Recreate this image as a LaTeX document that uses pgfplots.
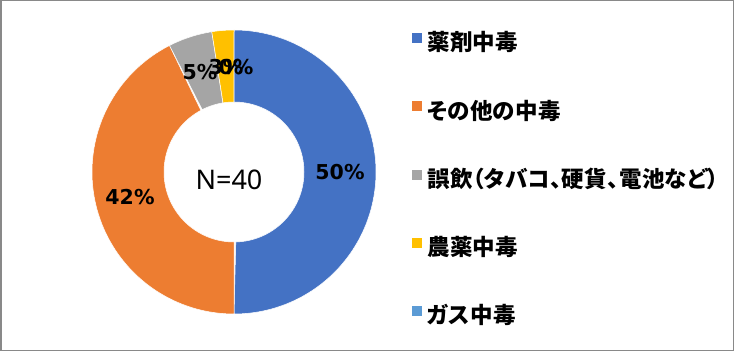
\documentclass[border=0pt]{standalone}
\usepackage{pgfplots}
\pgfplotsset{compat=1.18}
\usepackage{fontspec}
\setmainfont{Liberation Sans}
\newfontfamily\cjk[RawFeature=+palt, LetterSpace=1.5]{Noto Sans CJK JP}
\newfontfamily\labfont{DejaVu Sans}
\newfontfamily\nfont{Noto Sans}
\definecolor{cA}{HTML}{4472C4}
\definecolor{cB}{HTML}{ED7D31}
\definecolor{cC}{HTML}{A5A5A5}
\definecolor{cD}{HTML}{FFC000}
\definecolor{cE}{HTML}{5B9BD5}
\definecolor{frame}{HTML}{898989}
% counts (N=40)
\def\nA{20}\def\nB{17}\def\nC{2}\def\nD{1}\def\nE{0}\def\nTot{40}
\pgfmathsetmacro\aA{90}
\pgfmathsetmacro\aB{\aA-360*\nA/\nTot}
\pgfmathsetmacro\aC{\aB-360*\nB/\nTot}
\pgfmathsetmacro\aD{\aC-360*\nC/\nTot}
\pgfmathsetmacro\aE{\aD-360*\nD/\nTot}
\pgfmathsetmacro\aF{\aE-360*\nE/\nTot}
\newcommand\slice[3]{%
\addplot[fill=#1, draw=white, line width=0.5pt, domain=0:2, samples=241, variable=\t]
 ({234 + (\t<=1 ? 142 : 70)*cos(#2 + (\t<=1 ? \t : 2-\t)*(#3-#2))},
  {179 + (\t<=1 ? 142 : 70)*sin(#2 + (\t<=1 ? \t : 2-\t)*(#3-#2))}) -- cycle;
}
\pgfplotsset{legend image code/.code={\fill[#1,draw=none] (0pt,2pt) rectangle (10pt,12pt);}}
\begin{document}
\begin{tikzpicture}
\begin{axis}[
  width=734pt, height=351pt, scale only axis,
  xmin=0, xmax=734, ymin=0, ymax=351,
  hide axis, clip=false,
  legend style={at={(axis cs:412,318)}, anchor=north west, draw=none, fill=none,
    inner sep=0pt, row sep=45.8pt,
    nodes={inner sep=0pt, text height=16pt, text depth=5pt},
    font=\cjk\bfseries\fontsize{22.5}{26}\selectfont,
    /tikz/every odd column/.append style={column sep=5pt}},
  legend cell align=left,
]
\draw[frame, line width=1.5pt] (axis cs:0.75,0.75) rectangle (axis cs:733.25,350.25);
\slice{cA}{\aA}{\aB}
\addlegendentry{薬剤中毒}
\slice{cB}{\aB}{\aC}
\addlegendentry{その他の中毒}
\slice{cC}{\aC}{\aD}
\addlegendentry{誤飲（タバコ、硬貨、電池など）}
\slice{cD}{\aD}{\aE}
\addlegendentry{農薬中毒}
\addlegendimage{fill=cE}
\addlegendentry{ガス中毒}
\begin{scope}[every node/.style={font=\labfont\bfseries\fontsize{20.5}{23}\selectfont, inner sep=0pt}]
\node at (axis cs:340,179) {50\%};
\node at (axis cs:130,154) {42\%};
\node at (axis cs:200,279) {5\%};
\node at (axis cs:226,284) {3\%};
\node at (axis cs:236,284) {0\%};
\end{scope}
\node[font=\nfont\fontsize{27}{30}\selectfont] at (axis cs:229,171) {N=40};
\end{axis}
\pgfresetboundingbox
\path (current axis.south west) rectangle (current axis.north east);
\end{tikzpicture}
\end{document}
